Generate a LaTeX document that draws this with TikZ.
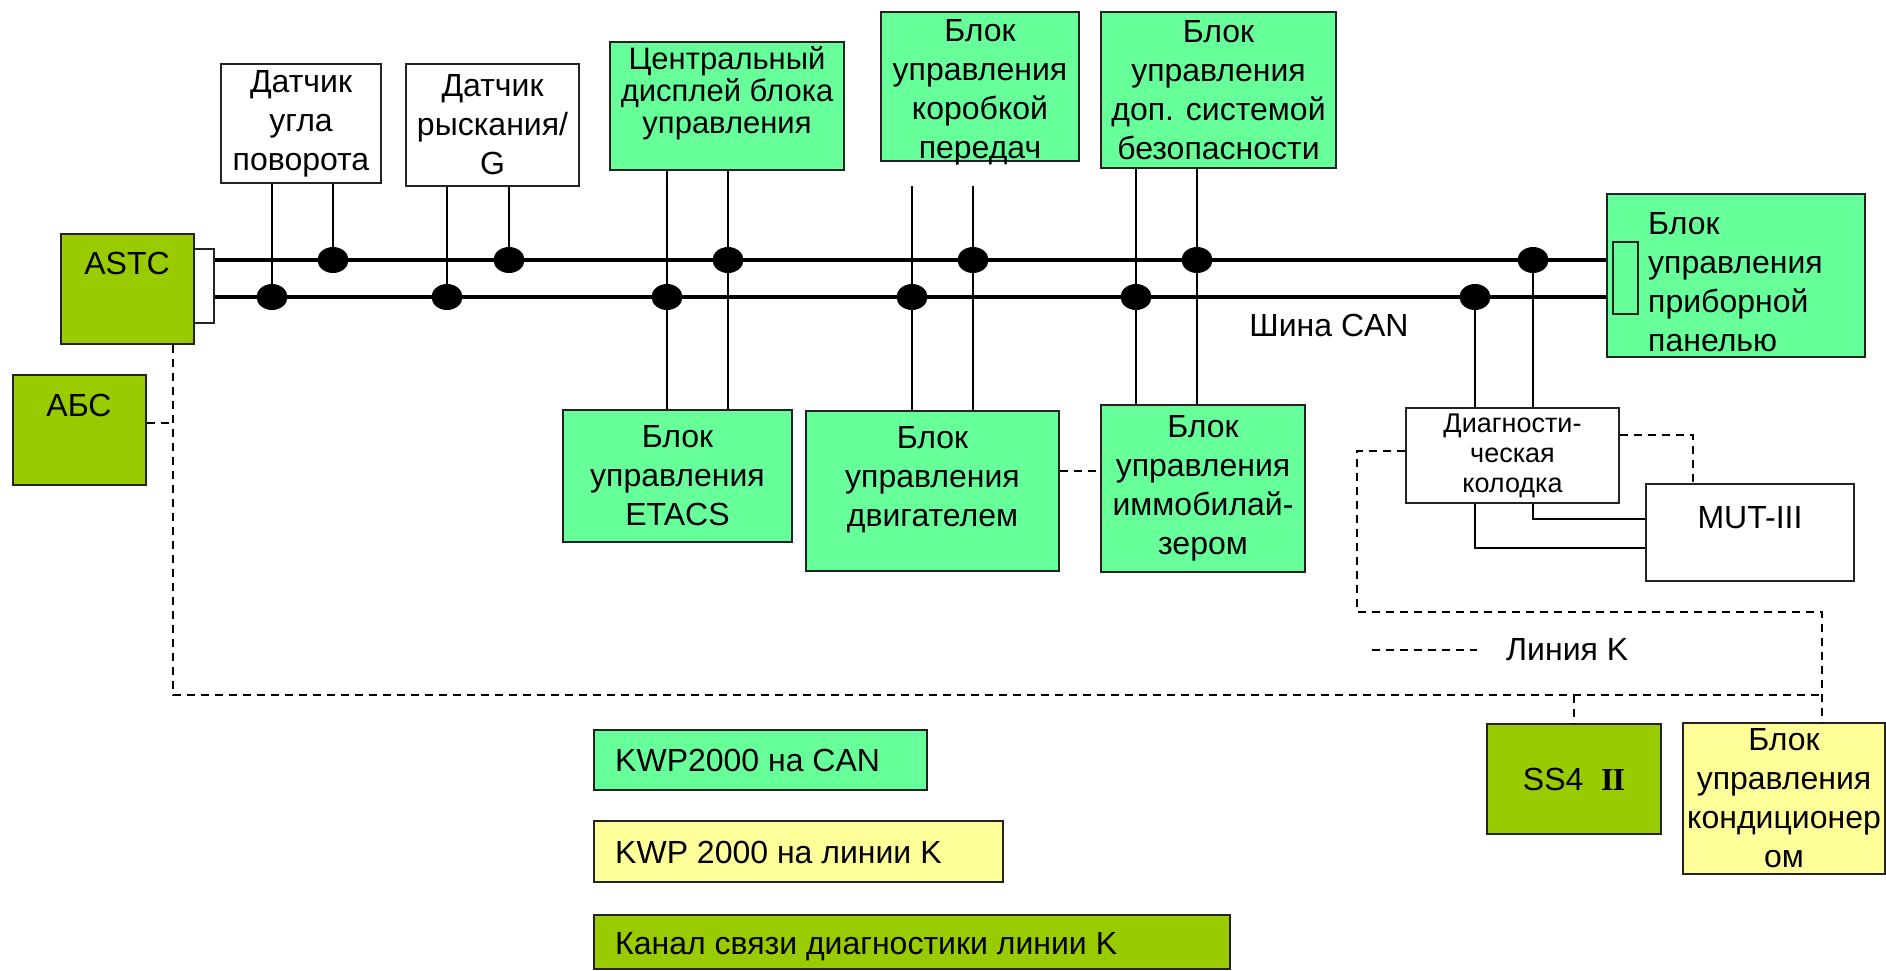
\documentclass[tikz,border=0pt]{standalone}
\usepackage{fontspec}
\setmainfont{Liberation Sans}
\newfontfamily\romannum{Liberation Serif}
\usepackage{tikz}
\usetikzlibrary{shapes.geometric,positioning}
\definecolor{CanGreen}{RGB}{102,255,153}
\definecolor{KGreen}{RGB}{153,204,0}
\definecolor{KYellow}{RGB}{255,255,153}
\definecolor{Edge}{RGB}{35,35,35}

\tikzset{
  unit/.style={draw=Edge,line width=1.5pt,inner sep=0pt,align=center},
  canunit/.style={unit,fill=CanGreen},
  kunit/.style={unit,fill=KGreen},
  acunit/.style={unit,fill=KYellow},
  plainunit/.style={unit,fill=white},
  txt/.style={inner sep=0pt,align=center},
  tap/.style={ellipse,fill=black,inner sep=0pt,minimum width=31pt,minimum height=26pt},
  bus/.style={line width=3.5pt},
  wire/.style={line width=1.3pt},
  kline/.style={line width=1.3pt,dash pattern=on 8pt off 6pt},
}

\begin{document}
\begin{tikzpicture}[x=1pt,y=-1pt,font=\fontsize{32}{39}\selectfont]
  \useasboundingbox (0,0) rectangle (1886,970);

  % left side
  \node[kunit,minimum width=133pt,minimum height=110pt] (astc) at (127.5,289) {};
  \node[txt] (astc-t) at (127,263) {ASTC};
  \node[plainunit,minimum width=20pt,minimum height=74pt] (astcport) at (204,286) {};
  \node[kunit,minimum width=133pt,minimum height=110pt] (abs) at (79.5,430) {};
  \node[txt] (abs-t) at (79,405) {АБС};

  % right side
  \node[canunit,minimum width=258pt,minimum height=163pt] (panel) at (1736,275.5) {};
  \node[canunit,minimum width=25pt,minimum height=72pt] (panelport) at (1625.5,278) {};
  \node[txt,align=left,anchor=west] (panel-t) at (1648,282) {Блок\\управления\\приборной\\панелью};

  % top row
  \node[plainunit,minimum width=160pt,minimum height=119pt] (sangle) at (301,123.5) {Датчик\\угла\\поворота};
  \node[plainunit,minimum width=173pt,minimum height=122pt] (syaw) at (492.5,125) {Датчик\\рыскания/\\G};
  \node[canunit,minimum width=234pt,minimum height=128pt] (cdisp) at (727,106) {};
  \node[txt,font=\fontsize{31}{32}\selectfont] (cdisp-t) at (727,93) {Центральный\\дисплей блока\\управления};
  \node[canunit,minimum width=198pt,minimum height=149pt] (tcu) at (980,86.5) {};
  \node[txt] (tcu-t) at (980,92) {Блок\\управления\\коробкой\\передач};
  \node[canunit,minimum width=235pt,minimum height=156pt] (srs) at (1218.5,90) {Блок\\управления\\доп. системой\\безопасности};

  % bottom row
  \node[canunit,minimum width=229pt,minimum height=132pt] (etacs) at (677.5,476) {Блок\\управления\\ETACS};
  \node[canunit,minimum width=253pt,minimum height=160pt] (ecu) at (932.5,491) {};
  \node[txt] (ecu-t) at (932.5,480) {Блок\\управления\\двигателем};
  \node[canunit,minimum width=204pt,minimum height=167pt] (immo) at (1203,488.5) {Блок\\управления\\иммобилай-\\зером};
  \node[plainunit,minimum width=213pt,minimum height=95pt,font=\fontsize{27}{30}\selectfont] (diag) at (1512.5,455.5) {Диагности-\\ческая\\колодка};
  \node[plainunit,minimum width=208pt,minimum height=97pt] (mut) at (1750,532.5) {};
  \node[txt] (mut-t) at (1750,518) {MUT-III};
  \node[kunit,minimum width=174pt,minimum height=110pt] (ss4) at (1574,779) {SS4\ \ {\romannum\bfseries I\kern-1pt I}};
  \node[acunit,minimum width=202pt,minimum height=151pt] (ac) at (1784,798.5) {Блок\\управления\\кондиционер\\ом};

  % legend
  \node[canunit,minimum width=333pt,minimum height=60pt] (leg1) at (760.5,760) {};
  \node[txt,anchor=west] (leg1-t) at (615,760) {KWP2000 на CAN};
  \node[acunit,minimum width=409pt,minimum height=61pt] (leg2) at (798.5,851.5) {};
  \node[txt,anchor=west] (leg2-t) at (615,852) {KWP 2000 на линии K};
  \node[kunit,minimum width=636pt,minimum height=54pt] (leg3) at (912,942) {};
  \node[txt,anchor=west] (leg3-t) at (615,947) {Канал связи диагностики линии K};

  \node[txt] (canlbl) at (1329,325) {Шина CAN};
  \node[txt,anchor=west] (klbl) at (1506,650) {Линия K};
  \coordinate (kleg) at (1372,650);

  % CAN bus
  \coordinate (busH) at (0,260);
  \coordinate (busL) at (0,297);
  \node[tap] (saL) at (272,297) {};
  \node[tap] (saH) at (333,260) {};
  \node[tap] (syL) at (447,297) {};
  \node[tap] (syH) at (509,260) {};
  \node[tap] (cdL) at (667,297) {};
  \node[tap] (cdH) at (728,260) {};
  \node[tap] (tcL) at (912,297) {};
  \node[tap] (tcH) at (973,260) {};
  \node[tap] (srL) at (1136,297) {};
  \node[tap] (srH) at (1197,260) {};
  \node[tap] (dgL) at (1475,297) {};
  \node[tap] (dgH) at (1533,260) {};
  \draw[bus] (astcport.east |- busH) -- (panel.west |- busH);
  \draw[bus] (astcport.east |- busL) -- (panel.west |- busL);

  \draw[wire] (sangle.south -| saL) -- (saL.center);
  \draw[wire] (sangle.south -| saH) -- (saH.center);
  \draw[wire] (syaw.south -| syL) -- (syL.center);
  \draw[wire] (syaw.south -| syH) -- (syH.center);
  \draw[wire] (cdisp.south -| cdL) -- (etacs.north -| cdL);
  \draw[wire] (cdisp.south -| cdH) -- (etacs.north -| cdH);
  \coordinate (tcugap) at (980,186);
  \draw[wire] (tcugap -| tcL) -- (ecu.north -| tcL);
  \draw[wire] (tcugap -| tcH) -- (ecu.north -| tcH);
  \draw[wire] (srs.south -| srL) -- (immo.north -| srL);
  \draw[wire] (srs.south -| srH) -- (immo.north -| srH);
  \draw[wire] (dgL.center) -- (diag.north -| dgL);
  \draw[wire] (dgH.center) -- (diag.north -| dgH);
  \draw[wire] (diag.south -| dgH) |- (mut.west |- 0,519);
  \draw[wire] (diag.south -| dgL) |- (mut.west |- 0,548);

  % K line
  \coordinate (kturn) at (173,695);
  \coordinate (kleft) at (1357,612);
  \coordinate (kright) at (1822,612);
  \coordinate (kmut) at (1693,435);
  \draw[kline] (astc.south -| kturn) -- (kturn) -- (kturn -| kright);
  \draw[kline] (abs.east |- 0,423) -- (kturn |- 0,423);
  \draw[kline] (kturn -| ss4.north) -- (ss4.north);
  \draw[kline] (diag.west |- 0,451) -| (kleft) -- (kright) -- (ac.north -| kright);
  \draw[kline] (diag.east |- kmut) -- (kmut) -- (mut.north -| kmut);
  \draw[kline] (ecu.east |- 0,471) -- (immo.west |- 0,471);
  \draw[kline] (kleg) -- ([xshift=-29pt]klbl.west);
\end{tikzpicture}
\end{document}
